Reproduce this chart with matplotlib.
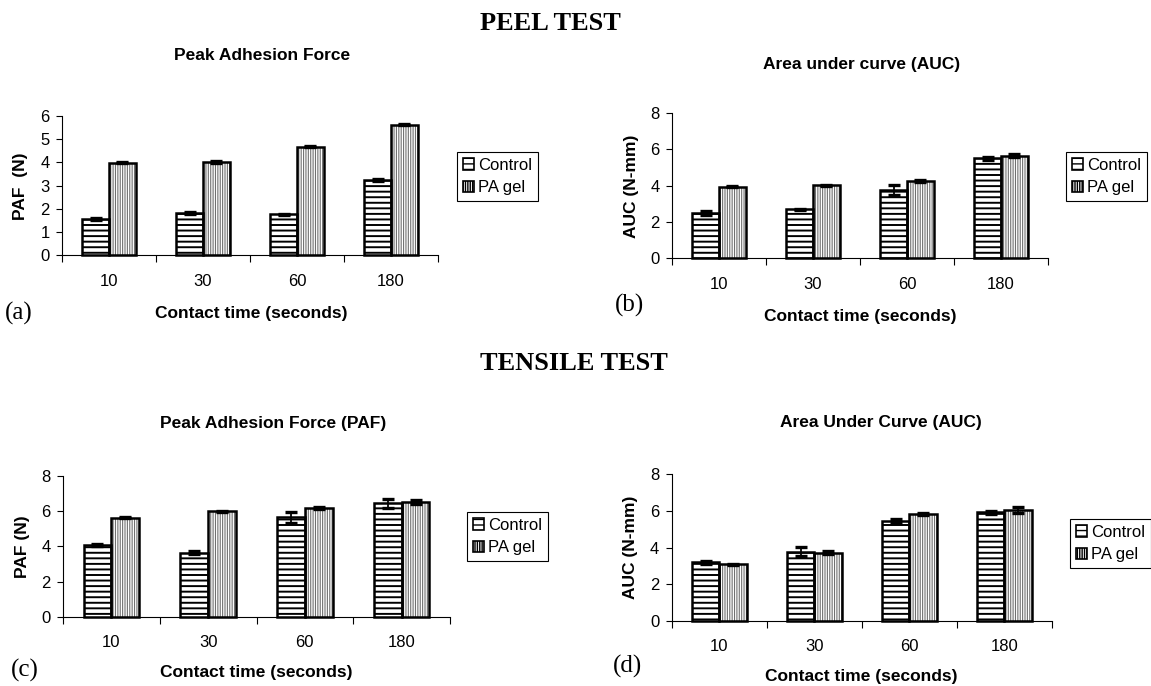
import numpy as np
import matplotlib
matplotlib.use("Agg")
import matplotlib.pyplot as plt
import matplotlib.patches as mpatches

# ── Data ──────────────────────────────────────────────────────────────────────

categories = ["10", "30", "60", "180"]

peel_paf_control = [1.55, 1.82, 1.76, 3.23]
peel_paf_control_err = [0.05, 0.04, 0.03, 0.04]
peel_paf_gel = [3.98, 4.02, 4.67, 5.63]
peel_paf_gel_err = [0.02, 0.03, 0.02, 0.02]

peel_auc_control = [2.50, 2.70, 3.76, 5.50]
peel_auc_control_err = [0.10, 0.03, 0.28, 0.08]
peel_auc_gel = [3.94, 4.01, 4.27, 5.65]
peel_auc_gel_err = [0.05, 0.04, 0.05, 0.08]

tens_paf_control = [4.07, 3.64, 5.65, 6.44]
tens_paf_control_err = [0.05, 0.10, 0.30, 0.25]
tens_paf_gel = [5.64, 6.00, 6.19, 6.53]
tens_paf_gel_err = [0.05, 0.03, 0.04, 0.10]

tens_auc_control = [3.19, 3.78, 5.46, 5.92]
tens_auc_control_err = [0.08, 0.25, 0.12, 0.08]
tens_auc_gel = [3.08, 3.72, 5.83, 6.05]
tens_auc_gel_err = [0.02, 0.08, 0.07, 0.15]

# ── Style ─────────────────────────────────────────────────────────────────────

W, H = 1151, 686
SANS = ["Liberation Sans", "DejaVu Sans"]
SERIF = ["Liberation Serif", "DejaVu Serif"]
BAR_W = 0.287
CTRL_HATCH = "---"
GEL_HATCH = "|||||||"
GEL_HATCH_COLOR = "#707070"

plt.rcParams.update({
    "font.family": SANS,
    "axes.spines.top": False,
    "axes.spines.right": False,
    "axes.linewidth": 0.8,
})


def fx(x):
    return x / W


def fy(y):
    return 1 - y / H


def make_axes(fig, left, top, right, bottom):
    return fig.add_axes([fx(left), fy(bottom), (right - left) / W, (bottom - top) / H])


def hatched(ax, x, h, hatch, color, hlw):
    with plt.rc_context({"hatch.linewidth": hlw}):
        bars = ax.bar(x, h, BAR_W, color="white", edgecolor=color,
                      hatch=hatch, linewidth=0)
    for b in bars:
        if hasattr(b, "set_hatch_linewidth"):
            b.set_hatch_linewidth(hlw)
    ax.bar(x, h, BAR_W, fill=False, edgecolor="black", linewidth=1.8,
           clip_on=False, zorder=3)


def draw_panel(ax, control, control_err, gel, gel_err, ymax, ystep):
    x = np.arange(len(categories)) + 0.5
    hatched(ax, x - BAR_W / 2, control, CTRL_HATCH, "black", 1.4)
    hatched(ax, x + BAR_W / 2, gel, GEL_HATCH, GEL_HATCH_COLOR, 0.8)

    for xs, v, e in [(x - BAR_W / 2, control, control_err),
                     (x + BAR_W / 2, gel, gel_err)]:
        ax.errorbar(xs, v, yerr=e, fmt="none", ecolor="black",
                    elinewidth=1.3, capsize=4.5, capthick=2.4, zorder=4)

    ax.set_xlim(0, len(categories))
    ax.set_ylim(0, ymax)
    ax.set_yticks(np.arange(0, ymax + 0.01, ystep))
    ax.set_xticks(range(len(categories) + 1))
    ax.set_xticklabels([])
    ax.set_xticks(x, categories, minor=True)
    ax.tick_params(axis="x", which="major", length=5, direction="out", width=0.8)
    ax.tick_params(axis="x", which="minor", length=0, pad=13.5, labelsize=12)
    ax.tick_params(axis="y", length=4, pad=5, labelsize=12, width=0.8)
    ax.patch.set_alpha(0)


def legend_at(fig, x, y):
    handles = [
        mpatches.Patch(facecolor="white", edgecolor="black", hatch=CTRL_HATCH,
                       linewidth=1.2, label="Control"),
        mpatches.Patch(facecolor="white", edgecolor="black", hatch=GEL_HATCH,
                       linewidth=1.2, label="PA gel"),
    ]
    leg = fig.legend(handles=handles, loc="upper left",
                     bbox_to_anchor=(fx(x), fy(y)), fontsize=12,
                     frameon=True, fancybox=False, edgecolor="black",
                     framealpha=1, borderpad=0.35, borderaxespad=0,
                     handlelength=0.65, handleheight=0.65,
                     handletextpad=0.25, labelspacing=0.45)
    leg.get_frame().set_linewidth(0.8)


def label(fig, x, y, s, size=12.5, weight="bold", family=SANS, rot=0, ha="center"):
    fig.text(fx(x), fy(y), s, fontsize=size, fontweight=weight, family=family,
             rotation=rot, ha=ha, va="center")


# ── Figure ────────────────────────────────────────────────────────────────────

fig = plt.figure(figsize=(W / 100, H / 100), dpi=100)

ax_a = make_axes(fig, 62, 116, 438, 255)
ax_b = make_axes(fig, 672, 113, 1048, 258)
ax_c = make_axes(fig, 63, 476, 450, 616.7)
ax_d = make_axes(fig, 671.7, 474.3, 1052, 620.7)

draw_panel(ax_a, peel_paf_control, peel_paf_control_err,
           peel_paf_gel, peel_paf_gel_err, 6, 1)
draw_panel(ax_b, peel_auc_control, peel_auc_control_err,
           peel_auc_gel, peel_auc_gel_err, 8, 2)
draw_panel(ax_c, tens_paf_control, tens_paf_control_err,
           tens_paf_gel, tens_paf_gel_err, 8, 2)
draw_panel(ax_d, tens_auc_control, tens_auc_control_err,
           tens_auc_gel, tens_auc_gel_err, 8, 2)

legend_at(fig, 457, 152)
legend_at(fig, 1066, 152)
legend_at(fig, 467, 512)
legend_at(fig, 1070, 519)

# section headings
label(fig, 550, 24, "PEEL TEST", size=19, family=SERIF)
label(fig, 574, 363, "TENSILE TEST", size=19, family=SERIF)

# panel titles
label(fig, 262.5, 55, "Peak Adhesion Force")
label(fig, 861.7, 65, "Area under curve (AUC)")
label(fig, 273, 423, "Peak Adhesion Force (PAF)")
label(fig, 880.5, 422, "Area Under Curve (AUC)")

# x labels
label(fig, 251.5, 313, "Contact time (seconds)")
label(fig, 860, 316, "Contact time (seconds)")
label(fig, 256, 672, "Contact time (seconds)")
label(fig, 861.5, 676, "Contact time (seconds)")

# y labels
label(fig, 20, 186, "PAF  (N)", rot=90)
label(fig, 631.7, 186.7, "AUC (N-mm)", rot=90)
label(fig, 23, 547, "PAF (N)", rot=90)
label(fig, 630, 547, "AUC (N-mm)", rot=90)

# panel letters
label(fig, 5, 313, "(a)", size=18, weight="normal", family=SERIF, ha="left")
label(fig, 615, 305, "(b)", size=18, weight="normal", family=SERIF, ha="left")
label(fig, 11, 670, "(c)", size=18, weight="normal", family=SERIF, ha="left")
label(fig, 613, 666, "(d)", size=18, weight="normal", family=SERIF, ha="left")

fig.savefig("out.png", dpi=100)
